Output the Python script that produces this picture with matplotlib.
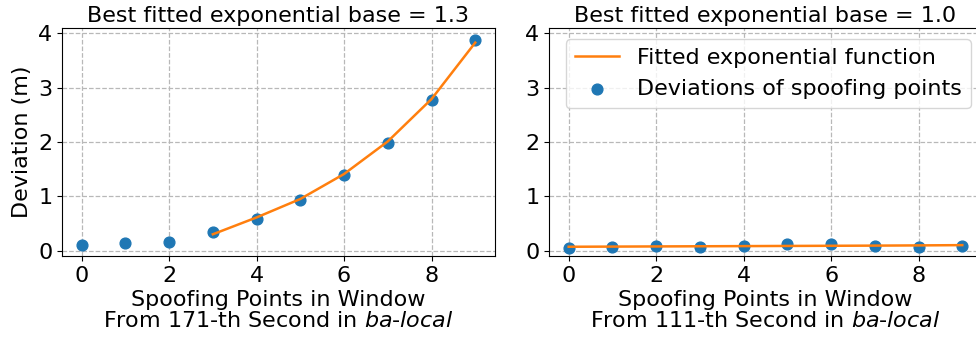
import matplotlib.pyplot as plt

# values
window_idx = [0, 1, 2, 3, 4, 5, 6, 7, 8, 9]

dev_171 = [0.10, 0.135, 0.15, 0.34, 0.59, 0.935, 1.40, 1.99, 2.77, 3.88]
fit_x_171 = [3, 4, 5, 6, 7, 8, 9]
fit_171 = [0.30, 0.61, 0.95, 1.41, 2.01, 2.79, 3.83]

dev_111 = [0.05, 0.07, 0.08, 0.07, 0.085, 0.12, 0.13, 0.09, 0.07, 0.09]
fit_x_111 = [0, 1, 2, 3, 4, 5, 6, 7, 8, 9]
fit_111 = [0.07, 0.073, 0.076, 0.079, 0.082, 0.085, 0.088, 0.091, 0.095, 0.10]

titles = ['Best fitted exponential base = 1.3', 'Best fitted exponential base = 1.0']
xlabels = ['Spoofing Points in Window\nFrom 171-th Second in $\\it{ba}$-$\\it{local}$',
           'Spoofing Points in Window\nFrom 111-th Second in $\\it{ba}$-$\\it{local}$']

plt.rcParams['font.size'] = 16
plt.rcParams['font.family'] = ['DejaVu Sans']

fig = plt.figure(figsize=(9.76, 3.45), dpi=100)
ax1 = fig.add_axes([0.0635, 0.258, 0.4436, 0.661])
ax2 = fig.add_axes([0.5625, 0.258, 0.4436, 0.661])

panels = [(ax1, dev_171, fit_x_171, fit_171), (ax2, dev_111, fit_x_111, fit_111)]
for i, (ax, dev, fx, fy) in enumerate(panels):
    ax.plot(fx, fy, color='tab:orange', lw=1.8, label='Fitted exponential function', zorder=3)
    ax.scatter(window_idx, dev, s=60, color='tab:blue', label='Deviations of spoofing points', zorder=2)
    ax.grid(True, linestyle='--', color='#b8b8b8', lw=0.9)
    ax.set_axisbelow(True)
    ax.set_xlim(-0.45, 9.45)
    ax.set_ylim(-0.1, 4.1)
    ax.set_xticks([0, 2, 4, 6, 8])
    ax.set_yticks([0, 1, 2, 3, 4])
    ax.set_title(titles[i], fontsize=16, pad=4)
    ax.set_xlabel(xlabels[i], labelpad=3, linespacing=1.05)

ax1.set_ylabel('Deviation (m)')
ax2.legend(loc='upper right')

fig.savefig('out.png', dpi=100)
